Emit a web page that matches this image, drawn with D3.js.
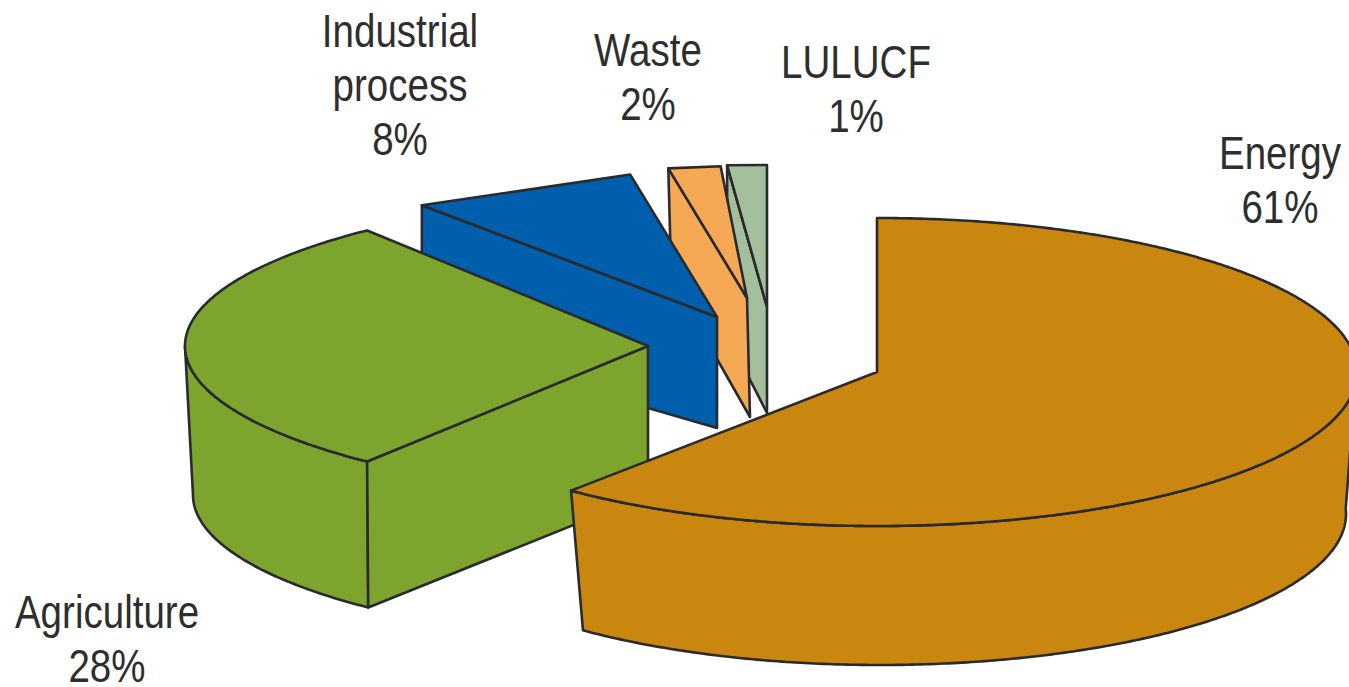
<!DOCTYPE html>
<html>
<head>
<meta charset="utf-8">
<script src="https://cdn.jsdelivr.net/npm/d3@7/dist/d3.min.js"></script>
<style>
html,body{margin:0;padding:0;background:#fff;overflow:hidden}
text{font-family:"Liberation Sans",Arial,sans-serif;fill:#2e2e2e}
</style>
</head>
<body>
<svg id="chart" width="1349" height="687"></svg>
<script>
// --- data ---
const sectors = ["Energy", "Agriculture", "Industrial process", "Waste", "LULUCF"];
const shares = [61, 28, 8, 2, 1];
const colours = ["#C98710", "#7DA52D", "#005FAD", "#F5A955", "#A4BF9C"];

// --- labels: lines of text and placement ---
const labelLines = [["Energy", "61%"], ["Agriculture", "28%"], ["Industrial", "process", "8%"], ["Waste", "2%"], ["LULUCF", "1%"]];
const labelAnchors = [[1280, 169], [107, 628], [400, 47], [648, 66], [856, 78]];

// --- hand-fitted oblique projection of each exploded wedge ---
const projection = [
  {cx: 877, cy: 372, rx: 480, ry: 154, p: 1,    bcx: 880, bcy: 514, brx: 466, bry: 151, bp: 1,    cut: false, rimFrom: 88},
  {cx: 648, cy: 346, rx: 463, ry: 150, p: 1.11, bcx: 648, bcy: 495, brx: 455, bry: 146, bp: 1.08, cut: true,  rimTo: 270},
  {cx: 717, cy: 317, rx: 463, ry: 145, p: 1,    bcx: 717, bcy: 428, brx: 463, bry: 111, bp: 1,    cut: true,  chord: true},
  {cx: 747, cy: 298, rx: 420, ry: 132, p: 1,    bcx: 750, bcy: 417, brx: 420, bry: 141, bp: 1,    cut: true,  chord: true},
  {cx: 767, cy: 307, rx: 635, ry: 142, p: 1,    bcx: 767, bcy: 413, brx: 635, bry: 78,  bp: 1,    cut: true,  chord: true}
];
const drawOrder = [4, 3, 2, 1, 0];

const svg = d3.select("#chart");
const pie = d3.pie().sort(null).value(d => d);
const arcs = pie(shares);
const line = d3.line();
const spow = (v, p) => Math.sign(v) * Math.pow(Math.abs(v), p);

const topPoint = (g, a) => [g.cx + g.rx * spow(Math.sin(a), g.p), g.cy - g.ry * Math.cos(a)];
const botPoint = (g, a) => [g.bcx + g.brx * spow(Math.sin(a), g.bp), g.bcy - g.bry * Math.cos(a)];
const sweep = (a0, a1) => {
  const n = Math.max(2, Math.ceil(Math.abs(a1 - a0) / 0.01));
  return d3.range(n + 1).map(i => a0 + (a1 - a0) * i / n);
};
const rad = d => d * Math.PI / 180;

const style = (sel, i) => sel
  .attr("fill", colours[i])
  .attr("stroke", "#2a2a2e")
  .attr("stroke-width", 2.6)
  .attr("stroke-linejoin", "round");

drawOrder.forEach(i => {
  const g = projection[i], d = arcs[i];
  const group = svg.append("g").attr("class", "wedge").attr("data-sector", sectors[i]);

  if (g.rimFrom !== undefined || g.rimTo !== undefined) {
    const a0 = g.rimFrom !== undefined ? rad(g.rimFrom) : d.startAngle;
    const a1 = g.rimTo !== undefined ? rad(g.rimTo) : d.endAngle;
    const as = sweep(a0, a1);
    const pts = as.map(a => topPoint(g, a)).concat(as.slice().reverse().map(a => botPoint(g, a)));
    group.append("path").attr("d", line(pts) + "Z").call(style, i);
  }
  if (g.cut) {
    const pts = [[g.cx, g.cy], topPoint(g, d.startAngle), botPoint(g, d.startAngle), [g.bcx, g.bcy]];
    group.append("path").attr("d", line(pts) + "Z").call(style, i);
  }
  const outer = g.chord ? [d.startAngle, d.endAngle] : sweep(d.startAngle, d.endAngle);
  const topPts = [[g.cx, g.cy]].concat(outer.map(a => topPoint(g, a)));
  group.append("path").attr("d", line(topPts) + "Z").call(style, i);
});

labelLines.forEach((lines, i) => {
  const [x, y] = labelAnchors[i];
  lines.forEach((t, k) => {
    svg.append("text")
      .attr("text-anchor", "middle")
      .attr("font-size", 47)
      .attr("transform", `translate(${x},${y + k * 54}) scale(0.82,1)`)
      .text(t);
  });
});
</script>
</body>
</html>
